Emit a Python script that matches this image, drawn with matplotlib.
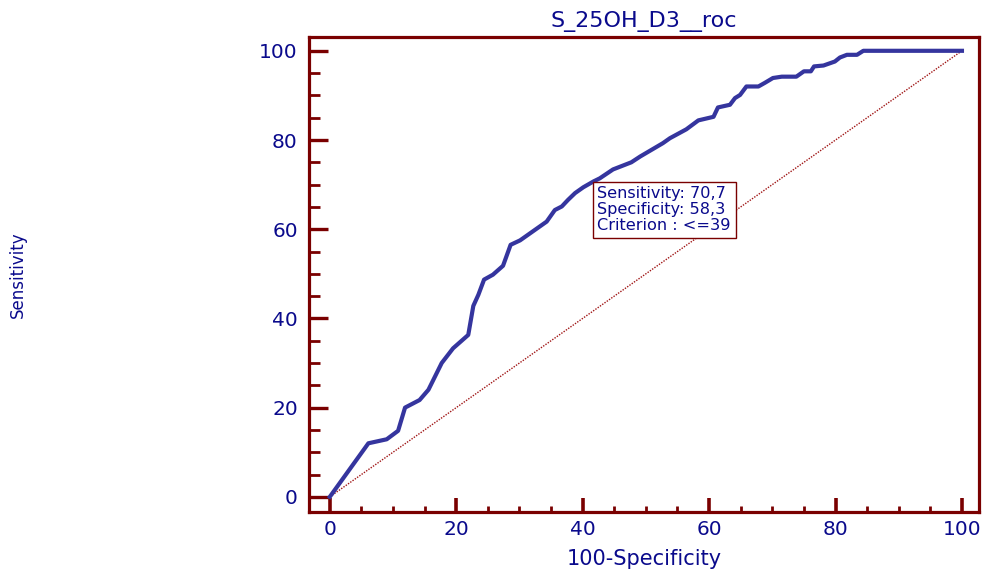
import matplotlib
matplotlib.use("Agg")
import matplotlib.pyplot as plt
from matplotlib.ticker import MultipleLocator

# ROC curve: 100-specificity vs sensitivity (%)
fpr = [0.0, 6.1, 9.0, 10.8, 11.9, 14.2, 15.6, 17.7, 19.5, 21.9, 22.7, 23.5,
       24.4, 25.8, 27.4, 28.6, 30.1, 34.3, 35.6, 36.7, 37.7, 38.8, 40.1,
       41.7, 42.7, 44.8, 47.7, 49.1, 52.7, 53.8, 56.4, 58.3, 60.7, 61.4,
       63.3, 64.1, 64.9, 65.9, 67.8, 68.8, 70.1, 71.5, 73.8, 75.0, 76.1,
       76.6, 78.1, 79.9, 80.7, 81.8, 83.4, 84.4, 100.0]
tpr = [0.0, 12.0, 12.9, 14.8, 20.0, 21.7, 24.0, 30.0, 33.3, 36.3, 42.8, 45.3,
       48.7, 49.8, 51.8, 56.5, 57.5, 61.7, 64.3, 65.1, 66.6, 68.1, 69.4,
       70.7, 71.4, 73.4, 75.0, 76.3, 79.3, 80.4, 82.4, 84.4, 85.2, 87.3,
       87.9, 89.4, 90.1, 92.0, 92.0, 92.8, 93.9, 94.2, 94.2, 95.4, 95.4,
       96.5, 96.7, 97.6, 98.5, 99.1, 99.1, 100.0, 100.0]

crit_sens = 70.7
crit_spec = 58.3
crit_label = "<=39"
title = "S_25OH_D3__roc"

RED = "#7a0000"
NAVY = "#0a0a8c"
LINE = "#35359e"

plt.rcParams["font.family"] = ["DejaVu Sans"]

fig = plt.figure(figsize=(9.89, 5.75), dpi=100)
ax = fig.add_axes([0.3124, 0.1096, 0.6775, 0.8261])

ax.plot([0, 100], [0, 100], color="#a01515", lw=1.0, ls=(0, (1, 1)))
ax.plot(fpr, tpr, color=LINE, lw=3.0, solid_joinstyle="round", zorder=3)

ax.set_xlim(-3.3, 102.7)
ax.set_ylim(-3.4, 103.1)

for s in ax.spines.values():
    s.set_color(RED)
    s.set_linewidth(2.3)

ax.xaxis.set_major_locator(MultipleLocator(20))
ax.xaxis.set_minor_locator(MultipleLocator(5))
ax.yaxis.set_major_locator(MultipleLocator(20))
ax.yaxis.set_minor_locator(MultipleLocator(5))

ax.tick_params(axis="y", which="major", direction="in", length=14, width=2.4,
               color=RED, labelcolor=NAVY, labelsize=14.5, pad=8)
ax.tick_params(axis="y", which="minor", direction="in", length=8, width=2.0,
               color=RED)
ax.tick_params(axis="x", which="major", direction="in", length=10, width=2.6,
               color=RED, labelcolor=NAVY, labelsize=14.5, pad=6)
ax.tick_params(axis="x", which="minor", direction="in", length=4.5, width=2.0,
               color=RED)

ax.set_xlabel("100-Specificity", color=NAVY, fontsize=15, labelpad=7)
ax.set_title(title, color=NAVY, fontsize=16, pad=7)
fig.text(27 / 989, 0.522, "Sensitivity", rotation=90, color=NAVY,
         fontsize=12, ha="right", va="center")

txt = "Sensitivity: %s\nSpecificity: %s\nCriterion : %s" % (
    str(crit_sens).replace(".", ","), str(crit_spec).replace(".", ","), crit_label)
ax.annotate(txt, xy=(100 - crit_spec, crit_sens), xytext=(4, -5),
            textcoords="offset pixels", ha="left", va="top", color=NAVY,
            fontsize=11.6, linespacing=1.05, zorder=4,
            bbox=dict(boxstyle="square,pad=0.3", fc="white", ec=RED, lw=1.0))

fig.savefig("out.png", dpi=100)
